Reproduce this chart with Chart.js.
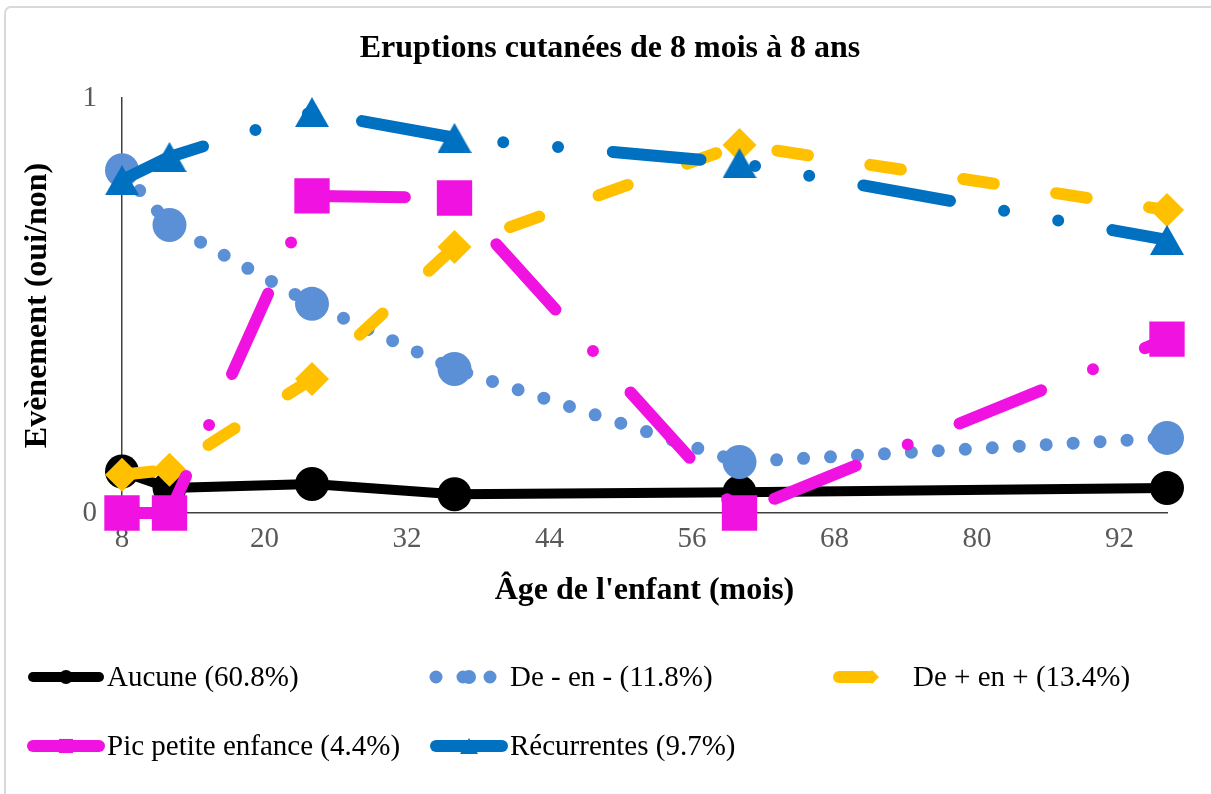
<!DOCTYPE html>
<html>
<head>
<meta charset="utf-8">
<script src="https://cdn.jsdelivr.net/npm/chart.js@4.4.0/dist/chart.umd.min.js"></script>
<style>
  body { margin: 0; background: #fff; }
  #wrap { width: 1211px; height: 794px; }
</style>
</head>
<body>
<div id="wrap"><canvas id="chart" width="1211" height="794"></canvas></div>
<script>
// data
const ages = [8, 12, 24, 36, 60, 96];
const xTicks = [8, 20, 32, 44, 56, 68, 80, 92];
const yTicks = [0, 1];

const aucune = [0.10, 0.06, 0.07, 0.045, 0.05, 0.06];
const deMoins = [0.826, 0.694, 0.504, 0.347, 0.123, 0.181];
const dePlus = [0.092, 0.104, 0.323, 0.641, 0.887, 0.73];
const picPetite = [0, 0, 0.764, 0.759, 0, 0.419];
const recurrentes = [0.802, 0.858, 0.966, 0.904, 0.843, 0.658];

const labels = ['Aucune (60.8%)', 'De - en - (11.8%)', 'De + en + (13.4%)', 'Pic petite enfance (4.4%)', 'Récurrentes (9.7%)'];
const chartTitle = 'Eruptions cutanées de 8 mois à 8 ans';

const serif = '"Liberation Serif", "Times New Roman", serif';

// Excel centres the triangle on its bounding box, so build it as an image
function triangleImage(w, h, color) {
  const c = document.createElement('canvas');
  c.width = w;
  c.height = h;
  const g = c.getContext('2d');
  g.fillStyle = color;
  g.beginPath();
  g.moveTo(w / 2, 0);
  g.lineTo(w, h);
  g.lineTo(0, h);
  g.closePath();
  g.fill();
  return c;
}

function series(label, values, color, dash, width, style, radius, order) {
  return {
    label: label,
    data: values.map((v, i) => ({ x: ages[i], y: v })),
    borderColor: color,
    backgroundColor: color,
    borderWidth: width,
    borderDash: dash,
    borderCapStyle: 'round',
    borderJoinStyle: 'round',
    pointStyle: style,
    pointRadius: radius,
    pointHoverRadius: radius,
    pointBackgroundColor: color,
    pointBorderColor: color,
    pointBorderWidth: 0,
    tension: 0,
    clip: false,
    order: order
  };
}

const datasets = [
  series(labels[0], aucune, '#000000', [], 10, 'circle', 17, 5),
  series(labels[1], deMoins, '#5B8FD6', [0, 27], 13, 'circle', 17, 4),
  series(labels[2], dePlus, '#FFC000', [31, 63], 12, 'rectRot', 17, 3),
  series(labels[3], picPetite, '#F012E0', [88, 56, 0, 56], 12, 'rect', 25, 2),
  series(labels[4], recurrentes, '#0070C0', [88, 55, 0, 55, 0, 55], 12, triangleImage(34, 30, '#0070C0'), 17, 1)
];

// legend samples: small marker for each series
const legendMarker = [7, 7, 7, 10, 7];
const legendTriangle = triangleImage(18, 16, '#0070C0');

const frame = {
  id: 'frame',
  beforeDraw(chart) {
    const ctx = chart.ctx;
    ctx.save();
    ctx.fillStyle = '#ffffff';
    ctx.fillRect(0, 0, chart.width, chart.height);
    ctx.strokeStyle = '#d9d9d9';
    ctx.lineWidth = 2;
    ctx.beginPath();
    ctx.roundRect(5, 7, 1300, 900, 6);
    ctx.stroke();
    ctx.fillStyle = '#000000';
    ctx.font = 'bold 32px ' + serif;
    ctx.textAlign = 'center';
    ctx.textBaseline = 'middle';
    ctx.fillText(chartTitle, 610, 49);
    ctx.restore();
  }
};

const bottomLegend = {
  id: 'bottomLegend',
  afterDraw(chart) {
    const ctx = chart.ctx;
    const cols = [27, 430, 833];
    const rows = [677, 746];
    chart.data.datasets.forEach((ds, i) => {
      const x0 = cols[i % 3];
      const y = rows[Math.floor(i / 3)];
      ctx.save();
      ctx.strokeStyle = ds.borderColor;
      ctx.lineWidth = ds.borderWidth;
      ctx.lineCap = 'round';
      ctx.setLineDash(ds.borderDash);
      ctx.beginPath();
      ctx.moveTo(x0 + 6, y);
      ctx.lineTo(x0 + 72, y);
      ctx.stroke();
      ctx.setLineDash([]);
      ctx.fillStyle = ds.backgroundColor;
      const style = typeof ds.pointStyle === 'string' ? ds.pointStyle : legendTriangle;
      Chart.helpers.drawPoint(ctx, { pointStyle: style, radius: legendMarker[i], rotation: 0, borderWidth: 0 }, x0 + 39, y);
      ctx.fillStyle = '#000000';
      ctx.font = '29px ' + serif;
      ctx.textBaseline = 'middle';
      ctx.textAlign = 'left';
      ctx.fillText(ds.label, x0 + 80, y + 1);
      ctx.restore();
    });
  }
};

new Chart(document.getElementById('chart'), {
  type: 'line',
  data: { datasets: datasets },
  options: {
    responsive: false,
    animation: false,
    layout: { padding: { left: 5, right: 44, top: 98, bottom: 181 } },
    plugins: {
      legend: { display: false },
      tooltip: { enabled: false },
      title: { display: false }
    },
    scales: {
      x: {
        type: 'linear',
        min: 8,
        max: 96,
        afterBuildTicks: (axis) => { axis.ticks = xTicks.map(v => ({ value: v })); },
        afterFit: (axis) => { axis.height = 100; },
        grid: { display: false, drawTicks: false },
        border: { display: true, color: '#404040', width: 1.5 },
        ticks: { color: '#595959', padding: 9, font: { family: serif, size: 29 } },
        title: {
          display: true,
          text: "Âge de l'enfant (mois)",
          color: '#000000',
          font: { family: serif, size: 32, weight: 'bold', lineHeight: 1.2 },
          padding: { top: 0, bottom: 3 }
        }
      },
      y: {
        type: 'linear',
        min: 0,
        max: 1,
        afterBuildTicks: (axis) => { axis.ticks = yTicks.map(v => ({ value: v })); },
        afterFit: (axis) => { axis.width = 117; },
        grid: { display: false, drawTicks: false },
        border: { display: true, color: '#404040', width: 1.5 },
        ticks: { color: '#595959', padding: 25, font: { family: serif, size: 29 } },
        title: {
          display: true,
          text: 'Evènement (oui/non)',
          color: '#000000',
          font: { family: serif, size: 32, weight: 'bold', lineHeight: 1.2 },
          padding: { top: 14, bottom: 0 }
        }
      }
    }
  },
  plugins: [frame, bottomLegend]
});
</script>
</body>
</html>
